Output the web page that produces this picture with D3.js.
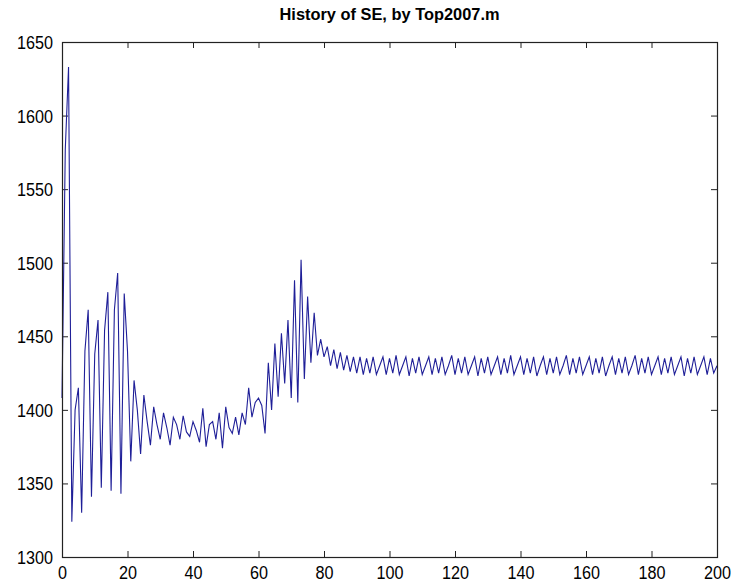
<!DOCTYPE html>
<html>
<head>
<meta charset="utf-8">
<script src="https://cdn.jsdelivr.net/npm/d3@7"></script>
<style>
  html, body { margin: 0; padding: 0; background: #fff; }
  svg { display: block; }
  text { font-family: "Liberation Sans", Arial, sans-serif; fill: #000; }
</style>
</head>
<body>
<svg id="chart" width="733" height="584"></svg>
<script>
// SE history, one value per iteration (iteration number = array index, 0..200)
const seValues = [
  1408, 1577, 1633, 1324, 1400, 1415, 1330, 1440, 1468, 1341,
  1438, 1461, 1347, 1454, 1480, 1345, 1468, 1493, 1343, 1479,
  1440, 1365, 1420, 1400, 1370, 1410, 1392, 1376, 1402, 1390,
  1380, 1398, 1388, 1376, 1395, 1390, 1380, 1396, 1385, 1382,
  1392, 1386, 1378, 1401, 1375, 1390, 1392, 1380, 1398, 1374,
  1402, 1388, 1384, 1395, 1383, 1398, 1390, 1415, 1395, 1405,
  1408, 1403, 1384, 1432, 1400, 1445, 1409, 1452, 1418, 1461,
  1408, 1488, 1405, 1502, 1421, 1477, 1432, 1466, 1437, 1448,
  1436, 1443, 1430, 1441, 1428, 1439, 1427, 1437, 1426, 1436,
  1425,
  1436, 1424, 1435, 1425, 1436, 1424, 1430, 1436, 1424, 1435,
  1425, 1437, 1424, 1430, 1436, 1423, 1435, 1425, 1436, 1424,
  1430, 1436, 1424, 1435, 1425, 1436, 1424, 1430, 1437, 1424,
  1435, 1425, 1436, 1424, 1430, 1436, 1423, 1435, 1425, 1436,
  1424, 1430, 1436, 1424, 1435, 1425, 1437, 1424, 1430, 1436,
  1424, 1435, 1425, 1436, 1423, 1430, 1436, 1424, 1435, 1425,
  1436, 1424, 1430, 1437, 1424, 1435, 1425, 1436, 1424, 1430,
  1436, 1424, 1435, 1425, 1436, 1423, 1430, 1436, 1424, 1435,
  1425, 1436, 1424, 1430, 1437, 1424, 1435, 1425, 1436, 1424,
  1430, 1436, 1424, 1435, 1425, 1436, 1424, 1430, 1436, 1423,
  1435, 1425, 1436, 1424, 1430, 1436, 1424, 1435, 1425, 1430
];
const xTicks = [0, 20, 40, 60, 80, 100, 120, 140, 160, 180, 200];
const yTicks = [1300, 1350, 1400, 1450, 1500, 1550, 1600, 1650];
const titleText = "History of SE, by Top2007.m";

const svg = d3.select("#chart");
const plot = { left: 62, right: 717, top: 42, bottom: 557 };

const x = d3.scaleLinear().domain([0, 200]).range([plot.left, plot.right]);
const y = d3.scaleLinear().domain([1300, 1650]).range([plot.bottom, plot.top]);

const tickLen = 6;
const digitW = 9;      // narrow, tall tick-label digits
const labelSize = 18;

const axBottom = d3.axisBottom(x).tickValues(xTicks).tickSize(-tickLen).tickPadding(0).tickFormat(d3.format("d"));
const axTop = d3.axisTop(x).tickValues(xTicks).tickSize(-tickLen).tickFormat("");
const axLeft = d3.axisLeft(y).tickValues(yTicks).tickSize(-tickLen).tickPadding(0).tickFormat(d3.format("d"));
const axRight = d3.axisRight(y).tickValues(yTicks).tickSize(-tickLen).tickFormat("");

function style(g) {
  g.select(".domain").remove();
  g.selectAll(".tick line").attr("stroke", "#222").attr("stroke-width", 1);
  g.selectAll(".tick text")
    .style("font-size", labelSize + "px")
    .attr("fill", "#000")
    .attr("lengthAdjust", "spacingAndGlyphs")
    .attr("textLength", function () { return this.textContent.length * digitW; });
}

const gb = svg.append("g").attr("transform", `translate(0,${plot.bottom})`).call(axBottom).call(style);
gb.selectAll(".tick text").attr("y", 0).attr("dy", 0).attr("transform", "translate(0,22)");
svg.append("g").attr("transform", `translate(0,${plot.top})`).call(axTop).call(style);
const gl = svg.append("g").attr("transform", `translate(${plot.left},0)`).call(axLeft).call(style);
gl.selectAll(".tick text").attr("x", -9).attr("dy", 0).attr("transform", "translate(0,6.5)");
svg.append("g").attr("transform", `translate(${plot.right},0)`).call(axRight).call(style);

// the series
const line = d3.line()
  .x((d, i) => x(i))
  .y(d => y(d));

svg.append("path")
  .datum(seValues)
  .attr("fill", "none")
  .attr("stroke", "#1f1f98")
  .attr("stroke-width", 1.1)
  .attr("d", line);

// box around the axes
svg.append("rect")
  .attr("x", plot.left + 0.5).attr("y", plot.top + 0.5)
  .attr("width", plot.right - plot.left).attr("height", plot.bottom - plot.top)
  .attr("fill", "none").attr("stroke", "#222").attr("stroke-width", 1.2);

svg.append("text")
  .attr("x", (plot.left + plot.right) / 2)
  .attr("y", 20)
  .attr("text-anchor", "middle")
  .style("font-size", "17px")
  .style("font-weight", "bold")
  .attr("lengthAdjust", "spacingAndGlyphs")
  .attr("textLength", 220)
  .text(titleText);
</script>
</body>
</html>
